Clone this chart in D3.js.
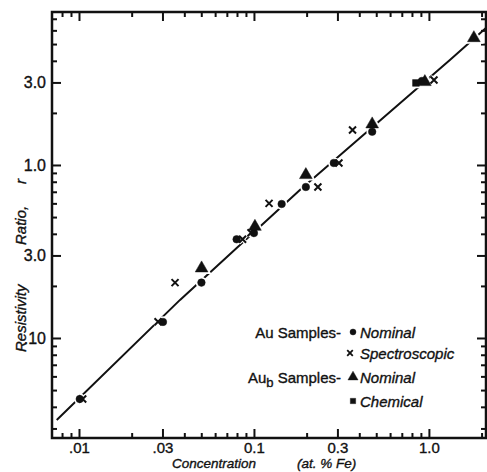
<!DOCTYPE html>
<html>
<head>
<meta charset="utf-8">
<script src="https://cdn.jsdelivr.net/npm/d3@7"></script>
<style>
  body { margin: 0; background: #fff; }
  svg text { font-family: "Liberation Sans", Arial, sans-serif; fill: #111; stroke: #111; stroke-width: 0.35px; }
</style>
</head>
<body>
<svg class="chart" width="487" height="472"></svg>
<script>
// values (concentration in at.% Fe, resistivity ratio r)
let nomConc = [0.0101, 0.0302, 0.0501, 0.0796, 0.100, 0.144, 0.198, 0.286, 0.474, 0.912];
let nomRatio = [0.0444, 0.1238, 0.209, 0.372, 0.404, 0.595, 0.746, 1.027, 1.557, 3.06];

let specConc = [0.0105, 0.0283, 0.0354, 0.0861, 0.0962, 0.122, 0.232, 0.306, 0.366, 1.069];
let specRatio = [0.0444, 0.124, 0.209, 0.372, 0.406, 0.600, 0.746, 1.027, 1.593, 3.10];

let bNomConc = [0.0502, 0.1013, 0.198, 0.474, 0.948, 1.807];
let bNomRatio = [0.253, 0.440, 0.876, 1.72, 3.02, 5.42];

let chemConc = [0.843];
let chemRatio = [2.98];

// drawn-in curve
let fitConc = [0.00746, 0.0378, 0.183, 1.318, 2.11];
let fitRatio = [0.0336, 0.166, 0.717, 4.05, 6.17];

let xMajor = [0.01, 0.03, 0.1, 0.3, 1];
let xLabels = ['.01', '.03', '0.1', '0.3', '1.0'];
let yMajor = [0.1, 0.3, 1, 3];
let yLabels = ['.10', '3.0', '1.0', '3.0'];

let pLeft = 52, pRight = 486, pTop = 12, pBottom = 438;

let svg = d3.select('svg.chart');

let x = d3.scaleLog().domain([0.00701, 2.12]).range([pLeft, pRight]);
let y = d3.scaleLog().domain([0.02642, 7.66]).range([pBottom, pTop]);

function minorTicks(scale, majors){
  let [lo, hi] = scale.domain();
  let out = [];
  for (let e = Math.floor(Math.log10(lo)); e <= Math.ceil(Math.log10(hi)); e++) {
    for (let m = 1; m <= 9; m++) {
      let v = m * Math.pow(10, e);
      if (v >= lo && v <= hi && !majors.some(d => Math.abs(d - v) / v < 1e-6)) out.push(v);
    }
  }
  return out;
}

let xMinor = minorTicks(x, xMajor);
let yMinor = minorTicks(y, yMajor);

function styleAxis(g){
  g.select('.domain').remove();
  g.selectAll('line').style('stroke', '#111').style('stroke-width', '2px');
  g.selectAll('text').style('font-size', '15px');
}

// bottom
svg.append('g').attr('transform', `translate(0,${pBottom})`)
  .call(d3.axisBottom(x).tickValues(xMinor).tickSize(-5).tickFormat(''))
  .call(styleAxis);
svg.append('g').attr('transform', `translate(0,${pBottom})`)
  .call(d3.axisBottom(x).tickValues(xMajor).tickSize(-9).tickPadding(4)
    .tickFormat((d, i) => xLabels[i]))
  .call(styleAxis);
// top
svg.append('g').attr('transform', `translate(0,${pTop})`)
  .call(d3.axisTop(x).tickValues(xMinor).tickSize(-5).tickFormat(''))
  .call(styleAxis);
svg.append('g').attr('transform', `translate(0,${pTop})`)
  .call(d3.axisTop(x).tickValues(xMajor).tickSize(-9).tickFormat(''))
  .call(styleAxis);
// left
svg.append('g').attr('transform', `translate(${pLeft},0)`)
  .call(d3.axisLeft(y).tickValues(yMinor).tickSize(-5).tickFormat(''))
  .call(styleAxis);
svg.append('g').attr('transform', `translate(${pLeft},0)`)
  .call(d3.axisLeft(y).tickValues(yMajor).tickSize(-9).tickPadding(6)
    .tickFormat((d, i) => yLabels[i]))
  .call(styleAxis)
  .call(g => g.selectAll('text').style('font-size', '16px'));
// right
svg.append('g').attr('transform', `translate(${pRight},0)`)
  .call(d3.axisRight(y).tickValues(yMinor).tickSize(-5).tickFormat(''))
  .call(styleAxis);
svg.append('g').attr('transform', `translate(${pRight},0)`)
  .call(d3.axisRight(y).tickValues(yMajor).tickSize(-9).tickFormat(''))
  .call(styleAxis);

// frame
svg.append('rect')
  .attr('x', pLeft).attr('y', pTop)
  .attr('width', pRight - pLeft).attr('height', pBottom - pTop)
  .style('fill', 'none').style('stroke', '#111').style('stroke-width', '2.5px');

// curve
let fitPts = fitConc.map((c, i) => [c, fitRatio[i]]);
svg.append('path')
  .attr('d', d3.line().x(d => x(d[0])).y(d => y(d[1]))(fitPts))
  .style('fill', 'none').style('stroke', '#111').style('stroke-width', '2px');

// markers
let crossPath = 'M-3.5,-3.5L3.5,3.5M-3.5,3.5L3.5,-3.5';
let triPath = d3.symbol().type(d3.symbolTriangle).size(70)();
let sqPath = d3.symbol().type(d3.symbolSquare).size(45)();
let circPath = d3.symbol().type(d3.symbolCircle).size(45)();

let sets = [
  {c: nomConc, r: nomRatio, shape: circPath, cross: false},
  {c: specConc, r: specRatio, shape: crossPath, cross: true},
  {c: bNomConc, r: bNomRatio, shape: triPath, cross: false},
  {c: chemConc, r: chemRatio, shape: sqPath, cross: false}
];

// white halos break the line around the points
sets.forEach(s => {
  svg.append('g').selectAll('path')
    .data(s.c.map((c, i) => [c, s.r[i]]))
    .enter().append('path')
    .attr('transform', d => `translate(${x(d[0])},${y(d[1])})`)
    .attr('d', s.shape)
    .style('fill', '#fff').style('stroke', '#fff').style('stroke-width', '4px');
});
sets.forEach(s => {
  svg.append('g').selectAll('path')
    .data(s.c.map((c, i) => [c, s.r[i]]))
    .enter().append('path')
    .attr('transform', d => `translate(${x(d[0])},${y(d[1])})`)
    .attr('d', s.shape)
    .style('fill', s.cross ? 'none' : '#111')
    .style('stroke', '#111')
    .style('stroke-width', s.cross ? '2px' : '0.5px');
});

// axis titles
svg.append('text')
  .attr('x', 172).attr('y', 468)
  .style('font-size', '13.5px').style('font-style', 'italic')
  .text('Concentration');
svg.append('text')
  .attr('x', 297).attr('y', 468)
  .style('font-size', '13.5px').style('font-style', 'italic')
  .text('(at. % Fe)');

function yTitle(txt, yPos){
  svg.append('text')
    .attr('transform', `translate(26,${yPos}) rotate(-90)`)
    .style('font-size', '15px').style('font-style', 'italic')
    .text(txt);
}
yTitle('Resistivity', 352);
yTitle('Ratio,', 245);
yTitle('r', 184);

// legend
let legendRows = [
  {y: 332, shape: circPath, label: 'Nominal', cross: false},
  {y: 353, shape: crossPath, label: 'Spectroscopic', cross: true},
  {y: 377, shape: triPath, label: 'Nominal', cross: false},
  {y: 401, shape: sqPath, label: 'Chemical', cross: false}
];
legendRows.forEach(d => {
  svg.append('path')
    .attr('d', d.cross ? 'M-2.8,-2.8L2.8,2.8M-2.8,2.8L2.8,-2.8' : d.shape)
    .attr('transform', `translate(${d.cross ? 350 : 353},${d.y}) scale(${d.cross ? 1 : 0.8})`)
    .style('fill', d.cross ? 'none' : '#111')
    .style('stroke', '#111').style('stroke-width', d.cross ? '1.8px' : '0.5px');
  svg.append('text')
    .attr('x', 360).attr('y', d.y + 5.5)
    .style('font-size', '15px').style('font-style', 'italic')
    .text(d.label);
});

svg.append('text')
  .attr('x', 341).attr('y', 337.5).attr('text-anchor', 'end')
  .style('font-size', '15px')
  .text('Au  Samples-');
let auB = svg.append('text')
  .attr('x', 341).attr('y', 382.5).attr('text-anchor', 'end')
  .style('font-size', '15px');
auB.append('tspan').text('Au');
auB.append('tspan').attr('dy', 4).style('font-size', '13px').text('b');
auB.append('tspan').attr('dy', -4).text(' Samples-');
</script>
</body>
</html>
